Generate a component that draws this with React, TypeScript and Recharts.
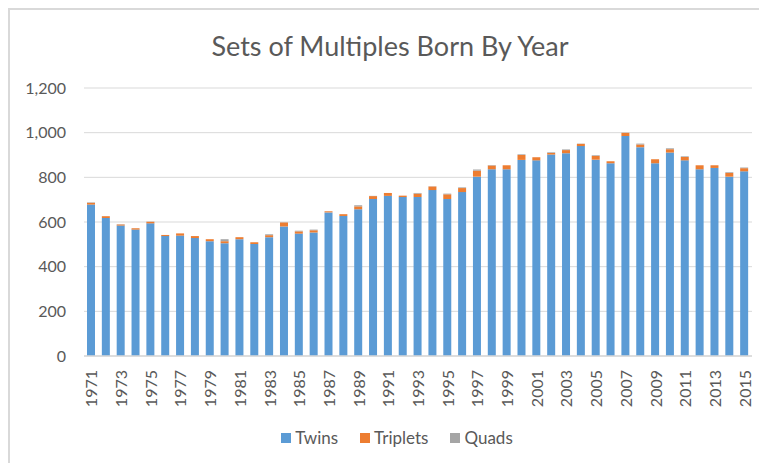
import React from "react";
import { BarChart, Bar, XAxis, YAxis, CartesianGrid } from "recharts";

const years = [
  "1971", "1972", "1973", "1974", "1975", "1976", "1977", "1978", "1979", "1980",
  "1981", "1982", "1983", "1984", "1985", "1986", "1987", "1988", "1989", "1990",
  "1991", "1992", "1993", "1994", "1995", "1996", "1997", "1998", "1999", "2000",
  "2001", "2002", "2003", "2004", "2005", "2006", "2007", "2008", "2009", "2010",
  "2011", "2012", "2013", "2014", "2015",
];

const twins = [
  678, 618, 584, 566, 594, 537, 539, 528, 514, 505,
  523, 502, 532, 580, 548, 553, 643, 627, 657, 703,
  717, 712, 712, 743, 703, 734, 803, 836, 836, 878,
  876, 902, 908, 940, 879, 863, 985, 935, 863, 911,
  876, 836, 842, 803, 827,
];

const triplets = [
  8, 8, 5, 6, 7, 5, 10, 9, 9, 9,
  9, 7, 9, 18, 10, 10, 5, 8, 13, 13,
  13, 6, 15, 16, 21, 18, 27, 17, 18, 22,
  14, 7, 14, 10, 17, 9, 14, 12, 18, 15,
  15, 18, 12, 17, 14,
];

const quads = [
  2, 0, 1, 0, 1, 0, 0, 0, 0, 9,
  0, 0, 4, 1, 3, 3, 0, 0, 5, 1,
  0, 0, 3, 1, 3, 3, 5, 2, 0, 3,
  0, 3, 3, 1, 3, 0, 1, 4, 0, 4,
  3, 0, 0, 3, 3,
];

const yTicks = [0, 200, 400, 600, 800, 1000, 1200];

const series = [
  { key: "twins", name: "Twins", color: "#5b9bd5" },
  { key: "triplets", name: "Triplets", color: "#ed7d31" },
  { key: "quads", name: "Quads", color: "#a5a5a5" },
];

const data = years.map((year, i) => ({
  year,
  twins: twins[i],
  triplets: triplets[i],
  quads: quads[i],
}));

const FONT = "Lato, 'Open Sans', sans-serif";
const TEXT = "#595959";

const YearTick = ({ x, y, payload }: any) => (
  <text
    x={0}
    y={0}
    transform={`translate(${x + 6},${y + 6}) rotate(-90)`}
    textAnchor="end"
    fill={TEXT}
    fontSize={16}
    fontFamily={FONT}
  >
    {payload.value}
  </text>
);

export default function App() {
  return (
    <div
      style={{
        position: "fixed",
        left: 0,
        top: 0,
        width: 759,
        height: 463,
        background: "#fff",
        overflow: "hidden",
        fontFamily: FONT,
      }}
    >
      <div
        style={{
          position: "absolute",
          left: 8,
          top: 8,
          width: 800,
          height: 500,
          borderLeft: "2px solid #d9d9d9",
          borderTop: "2px solid #d9d9d9",
        }}
      />
      <div
        style={{
          position: "absolute",
          left: 0,
          width: 780,
          top: 29,
          textAlign: "center",
          fontSize: 27,
          color: TEXT,
        }}
      >
        Sets of Multiples Born By Year
      </div>
      <div style={{ position: "absolute", left: 0, top: 0 }}>
        <BarChart
          width={759}
          height={463}
          data={data}
          margin={{ top: 88, right: 7, bottom: 57, left: 0 }}
          barSize={8}
        >
          <CartesianGrid vertical={false} stroke="#d9d9d9" strokeWidth={1} />
          <XAxis
            dataKey="year"
            interval={1}
            tickLine={false}
            axisLine={{ stroke: "#d9d9d9", strokeWidth: 1.5 }}
            tick={<YearTick />}
            height={50}
          />
          <YAxis
            width={84}
            domain={[0, 1200]}
            ticks={yTicks}
            tickFormatter={(v: number) => v.toLocaleString("en-US")}
            axisLine={false}
            tickLine={false}
            tickMargin={12}
            tick={{ fill: TEXT, fontSize: 16, fontFamily: FONT }}
          />
          {series.map((s) => (
            <Bar
              key={s.key}
              dataKey={s.key}
              name={s.name}
              stackId="a"
              fill={s.color}
              isAnimationActive={false}
            />
          ))}
        </BarChart>
      </div>
      <div
        style={{
          position: "absolute",
          left: 0,
          width: 794,
          top: 427,
          display: "flex",
          justifyContent: "center",
          gap: 22,
          fontSize: 17,
          color: TEXT,
        }}
      >
        {series.map((s) => (
          <span key={s.key} style={{ display: "flex", alignItems: "center" }}>
            <span
              style={{
                display: "inline-block",
                width: 10,
                height: 10,
                background: s.color,
                marginRight: 4,
              }}
            />
            {s.name}
          </span>
        ))}
      </div>
    </div>
  );
}
